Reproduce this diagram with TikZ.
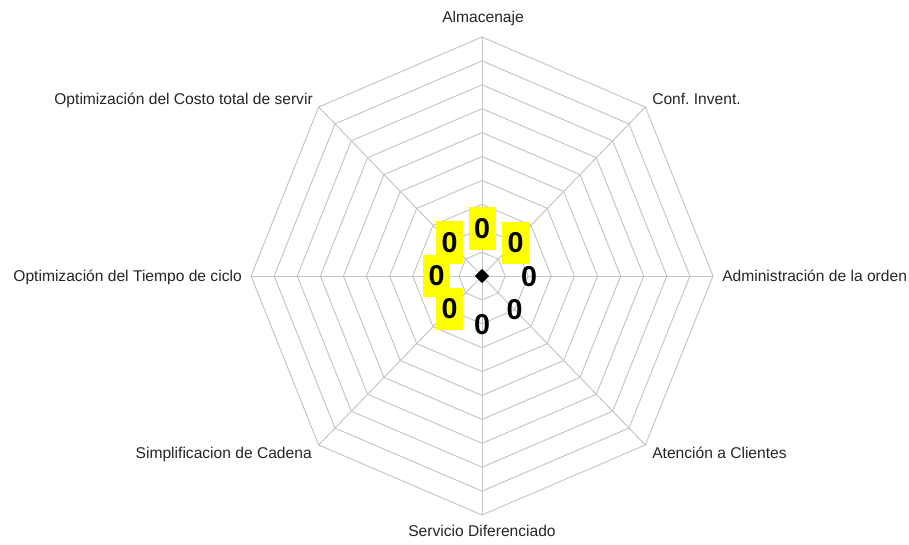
\documentclass[tikz,border=0pt]{standalone}
\usepackage{fontspec}
\setmainfont{Liberation Sans}
\usetikzlibrary{shapes.geometric,calc}
\definecolor{gridgray}{HTML}{C4C4C4}
\definecolor{labelgray}{HTML}{262626}
\definecolor{hilite}{HTML}{FFFF00}
\frenchspacing
\begin{document}
\begin{tikzpicture}[x=0.75pt,y=-0.75pt,
  grid/.style={draw=gridgray, line width=0.7pt},
  axislabel/.style={inner sep=0pt, font=\fontsize{11.7}{14}\selectfont, text=labelgray},
  valuetext/.style={inner sep=0pt, minimum width=20.25pt, minimum height=31.5pt,
    font=\fontsize{21.5}{24}\selectfont\bfseries, text=black},
  valuebox/.style={valuetext, fill=hilite},
  centremark/.style={diamond, fill=black, inner sep=0pt, minimum width=11pt, minimum height=11pt}
]
% canvas
\fill[white] (0,0) rectangle (909,545);
\useasboundingbox (0,0) rectangle (909,545);

% centre and outer vertices of the octagonal grid
\coordinate (c) at (482,276);
\foreach \i/\a in {0/-90,1/-45,2/0,3/45,4/90,5/135,6/180,7/225}
  \coordinate (v\i) at ($(c)+(\a:231 and 239)$);

% concentric rings
\begin{scope}[shift={(482,276)}]
  \foreach \k in {1,...,10}{
    \draw[grid] (-90:{23.1*\k} and {23.9*\k})
      \foreach \a in {-45,0,...,225}{ -- (\a:{23.1*\k} and {23.9*\k}) } -- cycle;
  }
\end{scope}

% spokes
\foreach \i in {0,...,7} \draw[grid] (c) -- (v\i);

% axis names
\node[axislabel, anchor=base] (l0) at (483,23) {Almacenaje};
\node[axislabel, anchor=base west] (l1) at (652,105) {Conf. Invent.};
\node[axislabel, anchor=base west] (l2) at (722,281.5) {Administración de la orden};
\node[axislabel, anchor=base west] (l3) at (652,458) {Atención a Clientes};
\node[axislabel, anchor=base] (l4) at (482,536.5) {Servicio Diferenciado};
\node[axislabel, anchor=base east] (l5) at (312,458) {Simplificacion de Cadena};
\node[axislabel, anchor=base east] (l6) at (242,281.5) {Optimización del Tiempo de ciclo};
\node[axislabel, anchor=base east] (l7) at (313,105) {Optimización del Costo total de servir};

% data point at the centre
\node[centremark] (m) at (c) {};

% value labels
\node[valuebox]  (d0) at (482,228.5) {0};
\node[valuebox]  (d1) at (515.5,242.8) {0};
\node[valuetext] (d2) at (529,276.5) {0};
\node[valuetext] (d3) at (514.5,309.5) {0};
\node[valuetext] (d4) at (482,324.5) {0};
\node[valuebox]  (d5) at (449.5,309) {0};
\node[valuebox]  (d6) at (436.5,276) {0};
\node[valuebox]  (d7) at (449.5,242.5) {0};
\end{tikzpicture}
\end{document}
